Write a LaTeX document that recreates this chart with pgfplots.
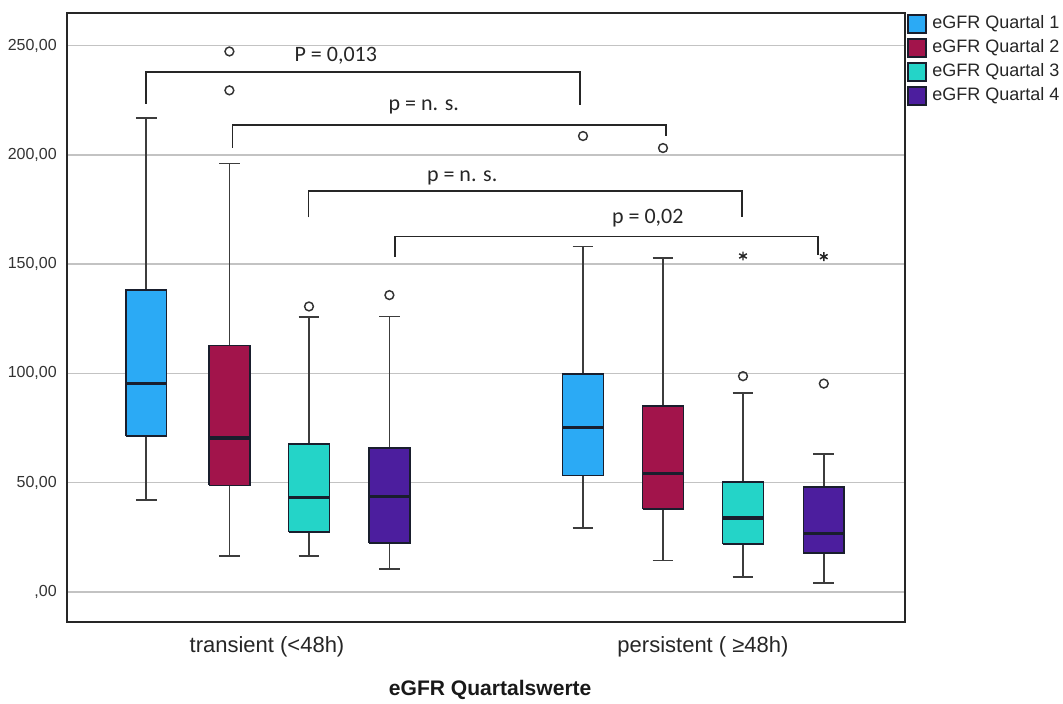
\documentclass[border=0pt]{standalone}
\usepackage{fontspec}
\setmainfont{Liberation Sans}
\newfontfamily\calibri{Carlito}
\usepackage{pgfplots}
\pgfplotsset{compat=1.18}

\definecolor{qa}{RGB}{43,170,245}
\definecolor{qb}{RGB}{162,20,75}
\definecolor{qc}{RGB}{36,212,200}
\definecolor{qd}{RGB}{76,30,158}
\definecolor{gridc}{RGB}{195,195,195}
\definecolor{whc}{RGB}{60,60,60}
\definecolor{edgec}{RGB}{25,30,45}

\pgfplotsset{
  wh/.style={whc, line width=1.25pt, mark=none, unbounded coords=jump, forget plot},
  bxs/.style={draw=edgec, line width=1.3pt, fill=#1, mark=none, forget plot},
  md/.style={edgec, line width=2.3pt, mark=none, forget plot},
}

\begin{document}
\begin{tikzpicture}
\begin{axis}[
  scale only axis, width=628.5pt, height=456.75pt,
  xmin=0, xmax=10.475, ymin=-13.8, ymax=264.9,
  axis line style={black!85, line width=1.3pt},
  ytick={0,50,100,150,200,250},
  yticklabels={{,00},{50,00},{100,00},{150,00},{200,00},{250,00}},
  xtick={2.5,7.95},
  xticklabels={transient (<48h), persistent ( ≥48h)},
  major tick length=0pt,
  ymajorgrids, grid style={gridc, line width=1.1pt},
  yticklabel style={font=\fontsize{12}{14}\selectfont, anchor=east, inner sep=0pt, xshift=-7.5pt, text=black!80},
  xticklabel style={font=\fontsize{16.5}{19}\selectfont, anchor=center, yshift=-18.4pt, text=black!85},
  clip=false,
]
% ---- transient: Quartal 1 (lw 42, q1 71.2, med 95.3, q3 138.2, uw 216.7)
\addplot[wh] coordinates {(0.99,42) (0.99,216.7) (nan,nan) (0.86,42) (1.12,42) (nan,nan) (0.86,216.7) (1.12,216.7)};
\addplot[bxs=qa] coordinates {(0.735,71.2) (1.245,71.2) (1.245,138.2) (0.735,138.2) (0.735,71.2)};
\addplot[md] coordinates {(0.735,95.3) (1.245,95.3)};
% ---- transient: Quartal 2 (16.3, 48.7, 70.4, 112.7, 196)
\addplot[wh] coordinates {(2.03,16.3) (2.03,196) (nan,nan) (1.90,16.3) (2.16,16.3) (nan,nan) (1.90,196) (2.16,196)};
\addplot[bxs=qb] coordinates {(1.775,48.7) (2.285,48.7) (2.285,112.7) (1.775,112.7) (1.775,48.7)};
\addplot[md] coordinates {(1.775,70.4) (2.285,70.4)};
% ---- transient: Quartal 3 (16.3, 27.5, 43.3, 67.5, 125.8)
\addplot[wh] coordinates {(3.025,16.3) (3.025,125.8) (nan,nan) (2.895,16.3) (3.155,16.3) (nan,nan) (2.895,125.8) (3.155,125.8)};
\addplot[bxs=qc] coordinates {(2.77,27.5) (3.28,27.5) (3.28,67.5) (2.77,67.5) (2.77,27.5)};
\addplot[md] coordinates {(2.77,43.3) (3.28,43.3)};
% ---- transient: Quartal 4 (10.5, 22.4, 43.6, 65.7, 126)
\addplot[wh] coordinates {(4.03,10.5) (4.03,126) (nan,nan) (3.90,10.5) (4.16,10.5) (nan,nan) (3.90,126) (4.16,126)};
\addplot[bxs=qd] coordinates {(3.775,22.4) (4.285,22.4) (4.285,65.7) (3.775,65.7) (3.775,22.4)};
\addplot[md] coordinates {(3.775,43.6) (4.285,43.6)};
% ---- persistent: Quartal 1 (29.3, 53.2, 75.3, 99.6, 158)
\addplot[wh] coordinates {(6.45,29.3) (6.45,158) (nan,nan) (6.32,29.3) (6.58,29.3) (nan,nan) (6.32,158) (6.58,158)};
\addplot[bxs=qa] coordinates {(6.195,53.2) (6.705,53.2) (6.705,99.6) (6.195,99.6) (6.195,53.2)};
\addplot[md] coordinates {(6.195,75.3) (6.705,75.3)};
% ---- persistent: Quartal 2 (14.3, 37.9, 54.3, 85.2, 152.8)
\addplot[wh] coordinates {(7.45,14.3) (7.45,152.8) (nan,nan) (7.32,14.3) (7.58,14.3) (nan,nan) (7.32,152.8) (7.58,152.8)};
\addplot[bxs=qb] coordinates {(7.195,37.9) (7.705,37.9) (7.705,85.2) (7.195,85.2) (7.195,37.9)};
\addplot[md] coordinates {(7.195,54.3) (7.705,54.3)};
% ---- persistent: Quartal 3 (6.7, 21.9, 33.8, 50.2, 91.1)
\addplot[wh] coordinates {(8.45,6.7) (8.45,91.1) (nan,nan) (8.32,6.7) (8.58,6.7) (nan,nan) (8.32,91.1) (8.58,91.1)};
\addplot[bxs=qc] coordinates {(8.195,21.9) (8.705,21.9) (8.705,50.2) (8.195,50.2) (8.195,21.9)};
\addplot[md] coordinates {(8.195,33.8) (8.705,33.8)};
% ---- persistent: Quartal 4 (4.1, 17.9, 26.8, 47.9, 63)
\addplot[wh] coordinates {(9.46,4.1) (9.46,63) (nan,nan) (9.33,4.1) (9.59,4.1) (nan,nan) (9.33,63) (9.59,63)};
\addplot[bxs=qd] coordinates {(9.205,17.9) (9.715,17.9) (9.715,47.9) (9.205,47.9) (9.205,17.9)};
\addplot[md] coordinates {(9.205,26.8) (9.715,26.8)};
% ---- outliers (circles) and extreme values (stars)
\addplot[only marks, mark=o, mark size=3.3pt, mark options={draw=black!80, line width=1.1pt}] coordinates {(2.03,247.3) (2.03,229.5) (3.025,130.6) (4.03,135.8) (6.45,208.6) (7.45,203.1) (8.45,98.7) (9.46,95.3)};
\addplot[only marks, mark=asterisk, mark size=3.3pt, mark options={draw=black!85, line width=1.1pt}] coordinates {(8.45,153.7) (9.46,153.4)};

% significance brackets
\draw[black!85, line width=1.3pt] (axis cs:0.99,223.4) |- (axis cs:6.41,237.8) -- (axis cs:6.41,222.6);
\draw[black!85, line width=1.3pt] (axis cs:2.07,203.3) |- (axis cs:7.49,213.5) -- (axis cs:7.49,208.5);
\draw[black!85, line width=1.3pt] (axis cs:3.02,171.4) |- (axis cs:8.44,183.4) -- (axis cs:8.44,171.7);
\draw[black!85, line width=1.3pt] (axis cs:4.1,153.3) |- (axis cs:9.39,162.6) -- (axis cs:9.39,154.2);
\node[font=\calibri\fontsize{16.5}{19}\selectfont, text=black!85] at (axis cs:3.36,245.4) {P = 0,013};
\node[font=\calibri\fontsize{16.5}{19}\selectfont, text=black!85] at (axis cs:4.46,221.9) {p = n. s.};
\node[font=\calibri\fontsize{16.5}{19}\selectfont, text=black!85] at (axis cs:4.94,189.2) {p = n. s.};
\node[font=\calibri\fontsize{16.5}{19}\selectfont, text=black!85] at (axis cs:7.26,171) {p = 0,02};

\coordinate (SW) at (rel axis cs:0,0);
\coordinate (NE) at (rel axis cs:1,1);
\node[font=\bfseries\fontsize{15.8}{18}\selectfont, text=black!90] at ([yshift=-50.6pt]rel axis cs:0.505,0) {eGFR Quartalswerte};
\end{axis}
% legend
\foreach \c/\t [count=\i from 0] in {qa/eGFR Quartal 1, qb/eGFR Quartal 2, qc/eGFR Quartal 3, qd/eGFR Quartal 4}{
  \draw[fill=\c, draw=edgec, line width=1pt] ([xshift=2.25pt, yshift={-1.5pt-18*\i pt}]NE) rectangle ([xshift=15.75pt, yshift={-15pt-18*\i pt}]NE);
  \node[anchor=west, inner sep=0pt, font=\fontsize{13.5}{16}\selectfont, text=black!85] at ([xshift=20.25pt, yshift={-8.25pt-18*\i pt}]NE) {\t};
}
\pgfresetboundingbox
\path[use as bounding box] ([xshift=-50.25pt, yshift=-61.1pt]SW) rectangle ([xshift=118.5pt, yshift=9.75pt]NE);
\end{tikzpicture}
\end{document}
